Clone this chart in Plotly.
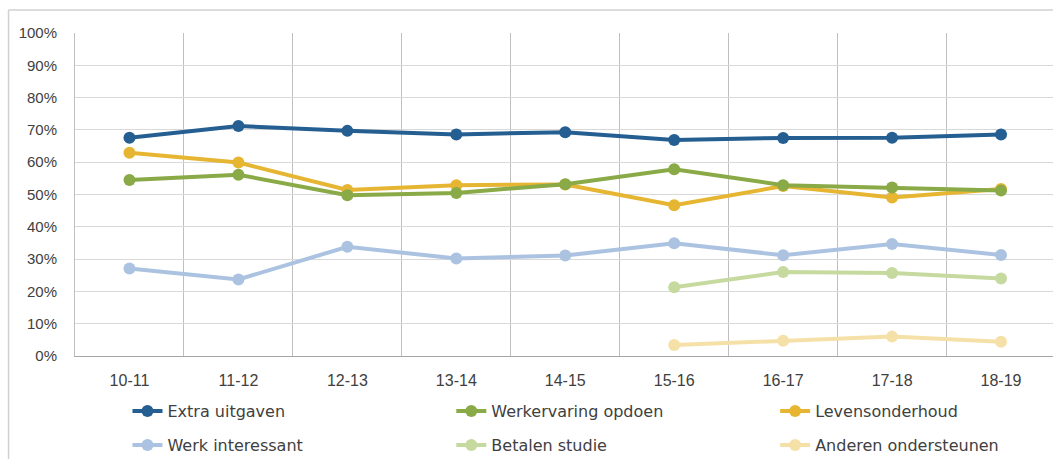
import plotly.graph_objects as go

categories = ["10-11", "11-12", "12-13", "13-14", "14-15", "15-16", "16-17", "17-18", "18-19"]

extra_uitgaven = [67.6, 71.2, 69.7, 68.6, 69.3, 66.9, 67.5, 67.6, 68.6]
werkervaring_opdoen = [54.5, 56.1, 49.8, 50.5, 53.2, 57.8, 52.9, 52.2, 51.2]
levensonderhoud = [62.9, 59.9, 51.4, 52.9, 53.1, 46.7, 52.6, 49.1, 51.7]
werk_interessant = [27.1, 23.7, 33.8, 30.2, 31.1, 34.9, 31.2, 34.7, 31.3]
betalen_studie = [None, None, None, None, None, 21.3, 26.0, 25.7, 24.0]
anderen_ondersteunen = [None, None, None, None, None, 3.4, 4.7, 6.0, 4.4]

series_names = ["Extra uitgaven", "Werkervaring opdoen", "Levensonderhoud",
                "Werk interessant", "Betalen studie", "Anderen ondersteunen"]
series_values = [extra_uitgaven, werkervaring_opdoen, levensonderhoud,
                 werk_interessant, betalen_studie, anderen_ondersteunen]
series_colors = ["#255E91", "#89AA46", "#E6B532", "#ABC3E1", "#C6DA9F", "#F5E1A8"]

W, H = 1053, 459
left, right_px, top, bottom = 74.5, 1053, 33, 356
plot_w = right_px - left
plot_h = bottom - top
cat_w = 109.0
x_max = -0.5 + plot_w / cat_w

def px_x(p):
    return (p - left) / plot_w

def px_y(p):
    return (bottom - p) / plot_h

x_idx = list(range(len(categories)))
legend_ids = ["legend", "legend2", "legend3", "legend4", "legend5", "legend6"]
text_x = [167, 491, 815]
row_y = [411, 445]

fig = go.Figure()
# draw in reverse so the first series sits on top
for i in reversed(range(len(series_names))):
    vals = series_values[i]
    color = series_colors[i]
    fig.add_trace(go.Scatter(
        x=x_idx, y=[v / 100 if v is not None else None for v in vals],
        name=series_names[i], mode="lines+markers",
        line=dict(color=color, width=4),
        marker=dict(color=color, size=12),
        legend=legend_ids[i],
        connectgaps=False,
    ))

legends = {}
for i, lid in enumerate(legend_ids):
    col, row = i % 3, i // 3
    legends[lid] = dict(
        orientation="h",
        font=dict(family="DejaVu Sans", size=16, color="#404040"),
        bgcolor="rgba(0,0,0,0)",
        xanchor="left", yanchor="middle",
        x=px_x(text_x[col] - 40), y=px_y(row_y[row]),
        itemclick=False, itemdoubleclick=False,
    )

fig.update_layout(
    width=W, height=H,
    margin=dict(l=left, r=W - right_px, t=top, b=H - bottom, autoexpand=False),
    paper_bgcolor="white", plot_bgcolor="white",
    font=dict(family="Liberation Sans", size=15, color="#404040"),
    showlegend=True,
    **legends,
    xaxis=dict(
        range=[-0.5, x_max],
        tickmode="array", tickvals=x_idx, ticktext=categories,
        tickfont=dict(size=16),
        showgrid=False, zeroline=False,
        showline=True, linecolor="#A6A6A6", linewidth=1,
        ticks="", ticklabelstandoff=10,
        minor=dict(tick0=0.5, dtick=1, showgrid=True, gridcolor="#BFBFBF", gridwidth=1, ticks=""),
        fixedrange=True,
    ),
    yaxis=dict(
        range=[0, 1], dtick=0.1, tickformat=".0%",
        showgrid=True, gridcolor="#D9D9D9", gridwidth=1,
        zeroline=False, showline=True, linecolor="#BFBFBF", linewidth=1,
        ticks="", ticklabelstandoff=14,
        fixedrange=True,
    ),
    shapes=[
        dict(type="line", xref="paper", yref="paper",
             x0=px_x(8), x1=px_x(8), y0=px_y(10), y1=px_y(470),
             line=dict(color="#D0D0D0", width=1.5)),
        dict(type="line", xref="paper", yref="paper",
             x0=px_x(8), x1=px_x(1060), y0=px_y(10), y1=px_y(10),
             line=dict(color="#D0D0D0", width=1.5)),
    ],
)

fig.write_html(
    "out.html",
    config={"displayModeBar": False},
    post_script="document.body.style.margin='0px';document.body.style.overflow='hidden';",
)
